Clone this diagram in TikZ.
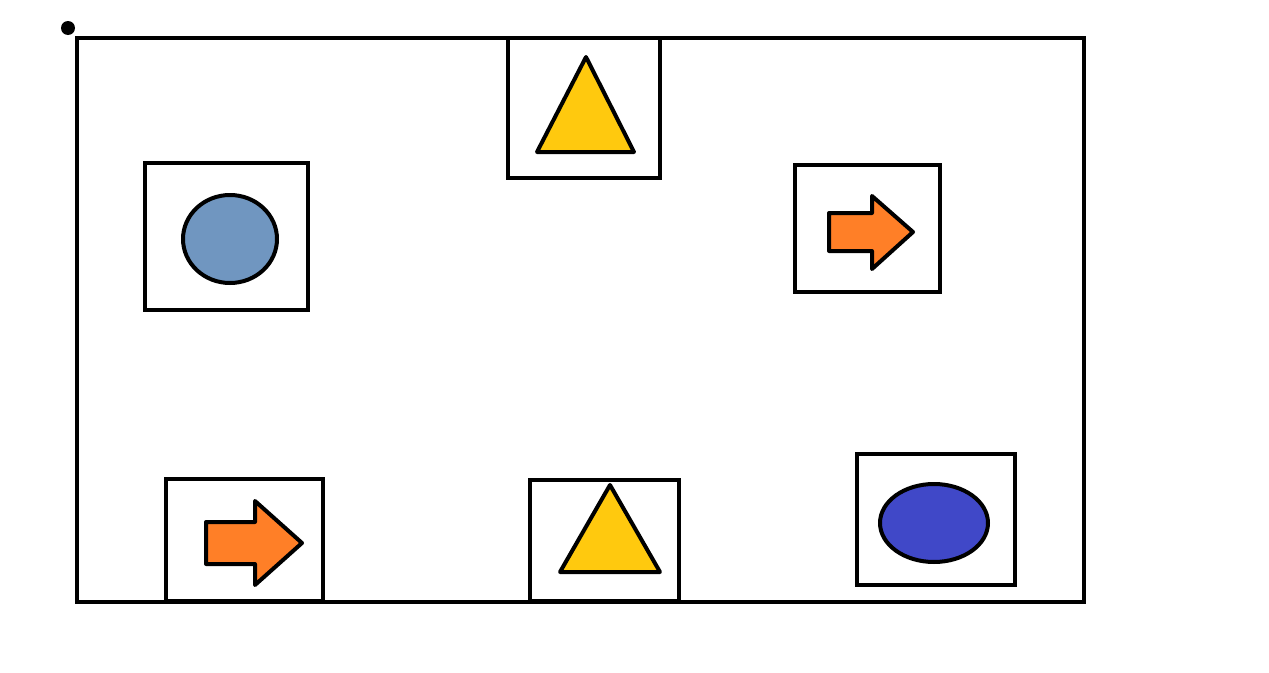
\documentclass[tikz,border=0pt]{standalone}
\usepackage{xcolor}
\usepackage{tikz}
\definecolor{paleblue}{RGB}{112,150,192}
\definecolor{deepblue}{RGB}{64,72,200}
\definecolor{sunyellow}{RGB}{255,201,14}
\definecolor{arroworange}{RGB}{255,127,39}

\begin{document}
\begin{tikzpicture}[
    x=0.02cm, y=-0.02cm,
    frame/.style={draw=black, line width=0.08cm},
    cell/.style={draw=black, fill=white, line width=0.08cm},
    shp/.style={draw=black, line width=0.08cm, line join=round}
]
\useasboundingbox (0,0) rectangle (1269,673);
\fill (68,28) circle (7);
\draw[frame] (77,38) rectangle (1084,602);

% boxes
\draw[cell] (145,163) rectangle (308,310);
\draw[cell] (508,38) rectangle (660,178);
\draw[cell] (795,165) rectangle (940,292);
\draw[cell] (166,479) rectangle (323,601);
\draw[cell] (530,480) rectangle (679,601);
\draw[cell] (857,454) rectangle (1015,585);

% shapes inside
\draw[shp, fill=paleblue] (230,239) ellipse [x radius=47, y radius=44];
\draw[shp, fill=sunyellow] (586,57) -- (634,152) -- (537,152) -- cycle;
\draw[shp, fill=arroworange] (829,213) -- (872,213) -- (872,196) -- (913,232)
    -- (872,269) -- (872,251) -- (829,251) -- cycle;
\draw[shp, fill=arroworange] (206,522) -- (255,522) -- (255,501) -- (302,543)
    -- (255,585) -- (255,564) -- (206,564) -- cycle;
\draw[shp, fill=sunyellow] (610,485) -- (660,572) -- (560,572) -- cycle;
\draw[shp, fill=deepblue] (934,523) ellipse [x radius=54, y radius=39];
\end{tikzpicture}
\end{document}
